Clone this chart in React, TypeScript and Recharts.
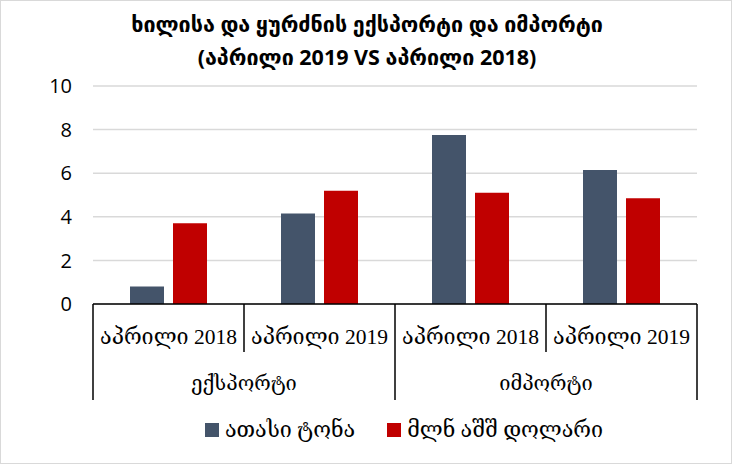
import { BarChart, Bar, XAxis, YAxis, CartesianGrid, Legend } from "recharts";

const groups = ["ექსპორტი", "იმპორტი"];
const periods = ["აპრილი 2018", "აპრილი 2019"];
const tons = [0.8, 4.15, 7.75, 6.15];
const usd = [3.7, 5.2, 5.1, 4.85];
const yTicks = [0, 2, 4, 6, 8, 10];
const seriesNames = { tons: "ათასი ტონა", usd: "მლნ აშშ დოლარი" };

const COLORS = { tons: "#44546A", usd: "#C00000" };

const data = tons.map((t, i) => ({
  period: periods[i % 2],
  group: groups[Math.floor(i / 2)],
  tons: t,
  usd: usd[i],
}));

const serif = "'Liberation Serif', 'DejaVu Serif', serif";
const sans = "'Open Sans', 'DejaVu Sans', sans-serif";

function PeriodTick(props: any) {
  const { x, y, payload, index } = props;
  const half = payload?.offset ?? 75;
  const first = index % 2 === 0;
  const last = index === data.length - 1;
  return (
    <g>
      <line x1={x - half} y1={y} x2={x - half} y2={y + (first ? 96 : 48)} stroke="#000" strokeWidth={1.5} />
      {last && <line x1={x + half} y1={y} x2={x + half} y2={y + 96} stroke="#000" strokeWidth={1.5} />}
      <text x={x} y={y + 40} textAnchor="middle" fontSize={21.5} fontFamily={serif} fill="#000">
        {data[index]?.period}
      </text>
      {first && (
        <text x={x + half} y={y + 86} textAnchor="middle" fontSize={20} fontFamily={serif} fill="#000">
          {data[index]?.group}
        </text>
      )}
    </g>
  );
}

function LegendContent() {
  const items = [
    { name: seriesNames.tons, color: COLORS.tons },
    { name: seriesNames.usd, color: COLORS.usd },
  ];
  return (
    <div style={{ display: "flex", justifyContent: "center", alignItems: "center", gap: 32, paddingLeft: 78, fontFamily: serif, fontSize: 21.5, lineHeight: "30px" }}>
      {items.map((it) => (
        <div key={it.name} style={{ display: "flex", alignItems: "center" }}>
          <span style={{ width: 14, height: 14, background: it.color, display: "inline-block", marginRight: 6 }} />
          <span>{it.name}</span>
        </div>
      ))}
    </div>
  );
}

export default function App() {
  return (
    <div style={{ position: "absolute", left: 0, top: 0, width: 732, height: 464, background: "#fff", boxSizing: "border-box", border: "1px solid #d9d9d9" }}>
      <div style={{ position: "absolute", left: 0, top: 6, width: 732, textAlign: "center", fontFamily: sans, fontSize: 21.5, fontWeight: "bold", lineHeight: "33px", color: "#000" }}>
        ხილისა და ყურძნის ექსპორტი და იმპორტი
        <br />
        (აპრილი 2019 VS აპრილი 2018)
      </div>
      <div style={{ position: "absolute", left: -1, top: -1 }}>
        <BarChart width={732} height={464} data={data} margin={{ top: 86, right: 35, left: 33, bottom: 34 }} barSize={34} barGap={9}>
          <CartesianGrid vertical={false} stroke="#D9D9D9" strokeWidth={1.5} />
          <XAxis dataKey="period" height={96} axisLine={{ stroke: "#000", strokeWidth: 1.5 }} tickLine={false} tickSize={0} tickMargin={0} interval={0} tick={<PeriodTick />} />
          <YAxis domain={[0, 10]} ticks={yTicks} width={60} axisLine={false} tickLine={false} tickMargin={15} tick={{ fill: "#000", fontSize: 20, fontFamily: sans }} />
          <Legend verticalAlign="bottom" height={30} content={<LegendContent />} wrapperStyle={{ top: 415, bottom: "auto" }} />
          <Bar dataKey="tons" name={seriesNames.tons} fill={COLORS.tons} isAnimationActive={false} />
          <Bar dataKey="usd" name={seriesNames.usd} fill={COLORS.usd} isAnimationActive={false} />
        </BarChart>
      </div>
    </div>
  );
}
